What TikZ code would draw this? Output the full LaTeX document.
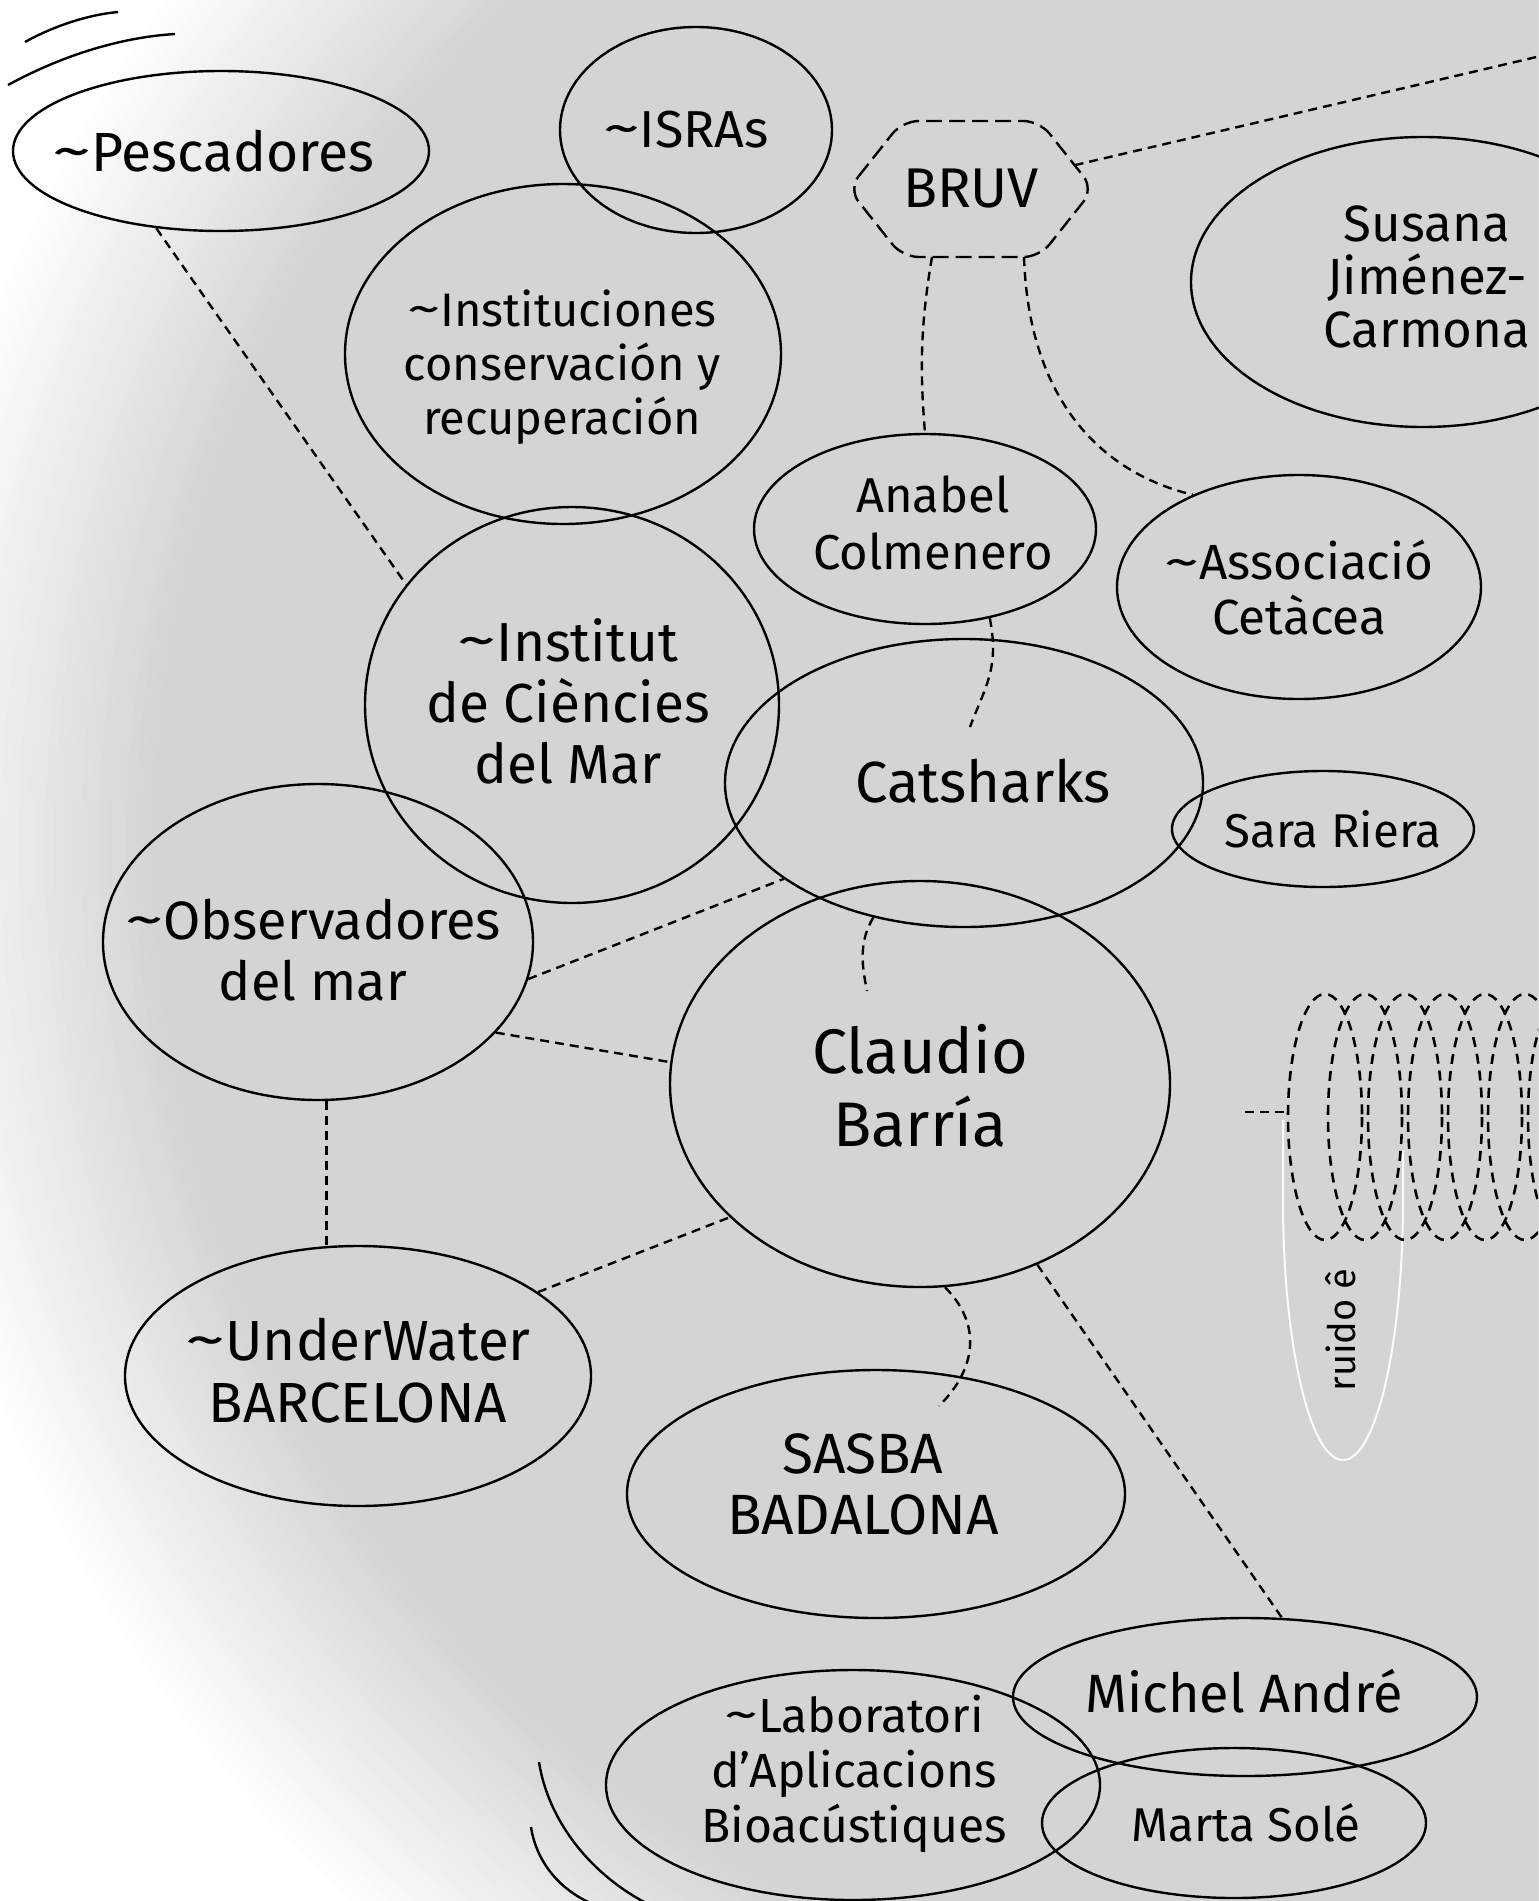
\documentclass[tikz,border=0pt]{standalone}
\usepackage{fontspec}
\usepackage{graphicx}
\setmainfont{Fira Sans}
\usetikzlibrary{shapes.geometric, calc}

\definecolor{paper}{gray}{0.83}
\newcommand{\setfs}[2]{\fontsize{#1}{#2}\selectfont}
\newcommand{\tld}{\raisebox{0.04em}{\scalebox{1.45}[1.0]{\textasciitilde}}}

\tikzset{
  blob/.style={draw, ellipse, line width=1.2pt, inner sep=0pt},
  lbl/.style={align=center, inner sep=0pt},
  link/.style={line width=1.2pt, dash pattern=on 4.5pt off 3pt},
  hexline/.style={line width=1.2pt, dash pattern=on 8pt off 3.5pt, rounded corners=8pt},
  coil/.style={line width=1.3pt, dash pattern=on 5pt off 3.5pt},
  wave/.style={line width=1.2pt},
}

\begin{document}
\begin{tikzpicture}[x=0.5pt,y=0.5pt,yscale=-1]
\useasboundingbox (0,0) rectangle (1538,1901);

%Paper, fading to white on the left
\begin{scope}
\clip (0,0) rectangle (1538,1901);
\fill[white] (0,0) rectangle (1538,1901);
\foreach \i in {0,...,30}{
  \pgfmathsetmacro{\rr}{1450-9*\i}
  \pgfmathsetmacro{\pp}{100*\i/30}
  \fill[paper!\pp!white] (1333,848) circle[radius=\rr];
}

%Shape: light U behind the noise label
\draw[white!93!paper, line width=1pt] (1283,1120) -- (1283,1200) arc[start angle=180, end angle=0, x radius=60, y radius=260] -- (1403,1150);

%Shape: coil
\foreach \k in {0,...,6}
  \draw[coil] (1325+40*\k,1117) ellipse [x radius=37, y radius=123];
\end{scope}

% Text Node
\node[lbl, rotate=90, font=\setfs{19}{22}] (ruido) at (1341,1330) {ruido ê};

%Shape: Ellipses
\node[blob, minimum width=208pt, minimum height=80pt] (pesc) at (221,151) {};
\node[blob, minimum width=136pt, minimum height=103pt] (isras) at (696,130) {};
\node[blob, minimum width=218pt, minimum height=170pt] (instit) at (563,354) {};
\node[blob, minimum width=232pt, minimum height=145pt] (susana) at (1423,282) {};
\node[blob, minimum width=171pt, minimum height=95pt] (anabel) at (925,529) {};
\node[blob, minimum width=182pt, minimum height=112pt] (assoc) at (1299,587) {};
\node[blob, minimum width=207pt, minimum height=198pt] (icm) at (572,705) {};
\node[blob, minimum width=239pt, minimum height=144pt] (cats) at (964,783) {};
\node[blob, minimum width=151pt, minimum height=58pt] (sara) at (1323,829) {};
\node[blob, minimum width=215pt, minimum height=158pt] (obs) at (318,942) {};
\node[blob, minimum width=250pt, minimum height=203pt] (claudio) at (920,1084) {};
\node[blob, minimum width=233pt, minimum height=130pt] (uw) at (358,1376) {};
\node[blob, minimum width=249pt, minimum height=124pt] (sasba) at (876,1494) {};
\node[blob, minimum width=232pt, minimum height=79pt] (michel) at (1245,1697) {};
\node[blob, minimum width=247pt, minimum height=115pt] (lab) at (853,1785) {};
\node[blob, minimum width=192pt, minimum height=75pt] (marta) at (1234,1823) {};

% Text Nodes
\node[lbl, font=\setfs{27.6}{30}] (pesc-t) at (213,151) {\tld Pescadores};
\node[lbl, font=\setfs{26}{28}] (isras-t) at (686,130) {\tld ISRAs};
\node[lbl, font=\setfs{23.5}{27}] (instit-t) at (562,367) {\tld Instituciones\\conservación y\\recuperación};
\node[lbl, font=\setfs{25.5}{26.5}] (susana-t) at (1427,277) {Susana\\Jiménez-\\Carmona};
\node[lbl, font=\setfs{24.5}{28.5}] (anabel-t) at (933,523) {Anabel\\Colmenero};
\node[lbl, font=\setfs{24.7}{27.5}] (assoc-t) at (1299,588) {\tld Associació\\Cetàcea};
\node[lbl, font=\setfs{27.5}{30.5}] (icm-t) at (568,701) {\tld Institut\\de Ciències\\del Mar};
\node[lbl, font=\setfs{29}{32}] (cats-t) at (983,781) {Catsharks};
\node[lbl, font=\setfs{23.7}{26}] (sara-t) at (1333,829) {Sara Riera};
\node[lbl, font=\setfs{27}{30.5}] (obs-t) at (313,950) {\tld Observadores\\del mar};
\node[lbl, font=\setfs{31.5}{36.5}] (claudio-t) at (920,1086) {Claudio\\Barría};
\node[lbl, font=\setfs{28.3}{31}] (uw-t) at (358,1371) {\tld UnderWater\\BARCELONA};
\node[lbl, font=\setfs{28.4}{30.5}] (sasba-t) at (863,1484) {SASBA\\BADALONA};
\node[lbl, font=\setfs{27}{30}] (michel-t) at (1244,1691) {Michel André};
\node[lbl, font=\setfs{24}{27.5}] (lab-t) at (854,1774) {\tld Laboratori\\d’Aplicacions\\Bioacústiques};
\node[lbl, font=\setfs{23.7}{26}] (marta-t) at (1246,1823) {Marta Solé};

%Shape: BRUV hexagon
\node[font=\setfs{28}{30}, minimum width=122.5pt, minimum height=68pt, inner sep=0pt, outer sep=0pt] (bruv) at (971,189) {BRUV};
\draw[hexline] (bruv.west) -- ([xshift=27pt]bruv.north west) -- ([xshift=-27pt]bruv.north east) -- (bruv.east) -- ([xshift=-27pt]bruv.south east) -- ([xshift=27pt]bruv.south west) -- cycle;

%Free ends
\coordinate (offne) at (1545,55);
\coordinate (catsin) at (970,727);
\coordinate (claudioin) at (867,991);
\coordinate (sasbain) at (939,1406);
\coordinate (coilstub) at (1245,1112);
\coordinate (coilin) at (1288,1112);

%Dashed links
\draw[link] (pesc.230) -- (icm.144);
\draw[link] ($(bruv.east)!0.35!([xshift=-27pt]bruv.north east)$) -- (offne);
\draw[link] ([xshift=-19.5pt]bruv.south) .. controls +(-12,70) and +(-5,-60) .. (anabel.north);
\draw[link] ([xshift=26.5pt]bruv.south) .. controls +(5,150) and +(-85,-20) .. (assoc.139);
\draw[link] (anabel.306) .. controls +(10,50) and +(15,-40) .. (catsin);
\draw[link] (cats.236) .. controls +(-15,25) and +(-5,-25) .. (claudioin);
\draw[link] (obs.350) -- (cats.208);
\draw[link] (obs.333) -- (claudio.175);
\draw[link] (obs.273) -- (obs.273 |- uw.north);
\draw[link] (uw.25) -- (claudio.215);
\draw[link] (claudio.277) .. controls +(35,35) and +(40,-40) .. (sasbain);
\draw[link] (claudio.303) -- (michel.65);
\draw[link] (coilstub) -- (coilin);

%Arcs, top left and bottom left
\draw[wave] (25,42) .. controls (50,28) and (85,15) .. (118,12);
\draw[wave] (8,85) .. controls (50,62) and (110,38) .. (175,34);
\draw[wave] (539,1762) .. controls (548,1820) and (590,1875) .. (650,1905);
\draw[wave] (531,1827) .. controls (536,1860) and (558,1890) .. (595,1905);

\end{tikzpicture}
\end{document}
